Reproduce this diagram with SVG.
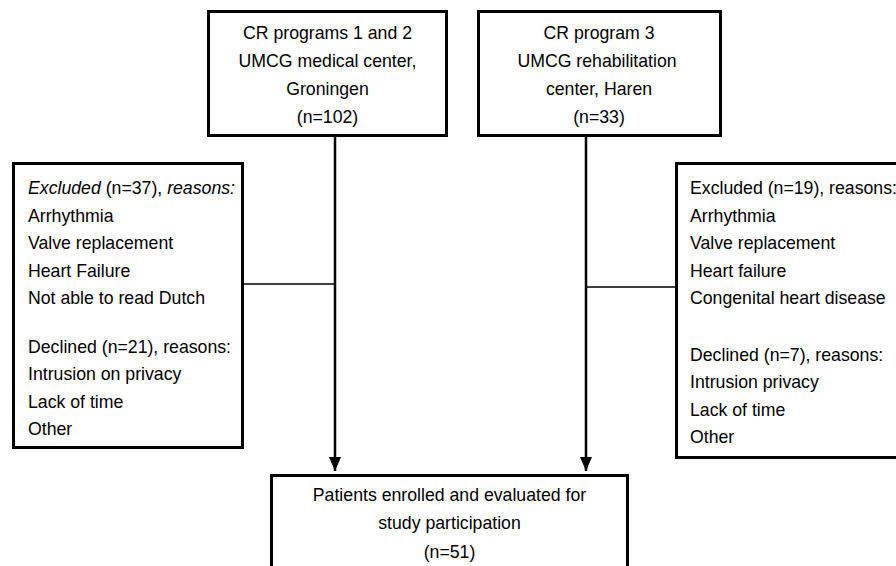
<svg xmlns="http://www.w3.org/2000/svg" width="896" height="566" viewBox="0 0 896 566">
<defs>
<style>
.box{fill:#fff;stroke:#000;stroke-width:3}
.t{font-family:"Liberation Sans",Arial,sans-serif;font-size:17.7px;fill:#000}
.c{text-anchor:middle}
.line{stroke:#000;fill:none}
</style>
<marker id="ah" markerUnits="userSpaceOnUse" markerWidth="14" markerHeight="12" refX="14" refY="6" orient="auto" viewBox="0 0 14 12">
<path d="M0,0 L14,6 L0,12 Z" fill="#000"/>
</marker>
</defs>
<rect width="896" height="566" fill="#fff"/>
<g id="connectors">
<line class="line" x1="335" y1="136" x2="335" y2="471" stroke-width="2.5" marker-end="url(#ah)"/>
<line class="line" x1="586" y1="136" x2="586" y2="471" stroke-width="2.5" marker-end="url(#ah)"/>
<line class="line" x1="243" y1="284" x2="335" y2="284" stroke-width="1.3"/>
<line class="line" x1="586" y1="287" x2="676" y2="287" stroke-width="1.3"/>
</g>
<g id="node-cr12">
<rect class="box" x="208.5" y="11.5" width="238" height="124"/>
<text class="t c" x="327.5" y="39">CR programs 1 and 2</text>
<text class="t c" x="327.5" y="67">UMCG medical center,</text>
<text class="t c" x="327.5" y="95">Groningen</text>
<text class="t c" x="327.5" y="123">(n=102)</text>
</g>
<g id="node-cr3">
<rect class="box" x="478.5" y="11.5" width="242" height="124"/>
<text class="t c" x="599" y="39">CR program 3</text>
<text class="t c" x="597" y="67">UMCG rehabilitation</text>
<text class="t c" x="599" y="95">center, Haren</text>
<text class="t c" x="599" y="123">(n=33)</text>
</g>
<g id="node-excl-left">
<rect class="box" x="13.5" y="163.5" width="229" height="284"/>
<text class="t" x="28" y="194"><tspan font-style="italic">Excluded</tspan> (n=37), <tspan font-style="italic">reasons:</tspan></text>
<text class="t" x="28" y="222">Arrhythmia</text>
<text class="t" x="28" y="249">Valve replacement</text>
<text class="t" x="28" y="277">Heart Failure</text>
<text class="t" x="28" y="304">Not able to read Dutch</text>
<text class="t" x="28" y="353">Declined (n=21), reasons:</text>
<text class="t" x="28" y="380">Intrusion on privacy</text>
<text class="t" x="28" y="408">Lack of time</text>
<text class="t" x="28" y="435">Other</text>
</g>
<g id="node-excl-right">
<rect class="box" x="676.5" y="163.5" width="230" height="294"/>
<text class="t" x="690" y="194">Excluded (n=19), reasons:</text>
<text class="t" x="690" y="222">Arrhythmia</text>
<text class="t" x="690" y="249">Valve replacement</text>
<text class="t" x="690" y="277">Heart failure</text>
<text class="t" x="690" y="304">Congenital heart disease</text>
<text class="t" x="690" y="361">Declined (n=7), reasons:</text>
<text class="t" x="690" y="388">Intrusion privacy</text>
<text class="t" x="690" y="416">Lack of time</text>
<text class="t" x="690" y="443">Other</text>
</g>
<g id="node-enrolled">
<rect class="box" x="271.5" y="475.5" width="356" height="100"/>
<text class="t c" x="449.5" y="501">Patients enrolled and evaluated for</text>
<text class="t c" x="449.5" y="529">study participation</text>
<text class="t c" x="449.5" y="558">(n=51)</text>
</g>
</svg>
